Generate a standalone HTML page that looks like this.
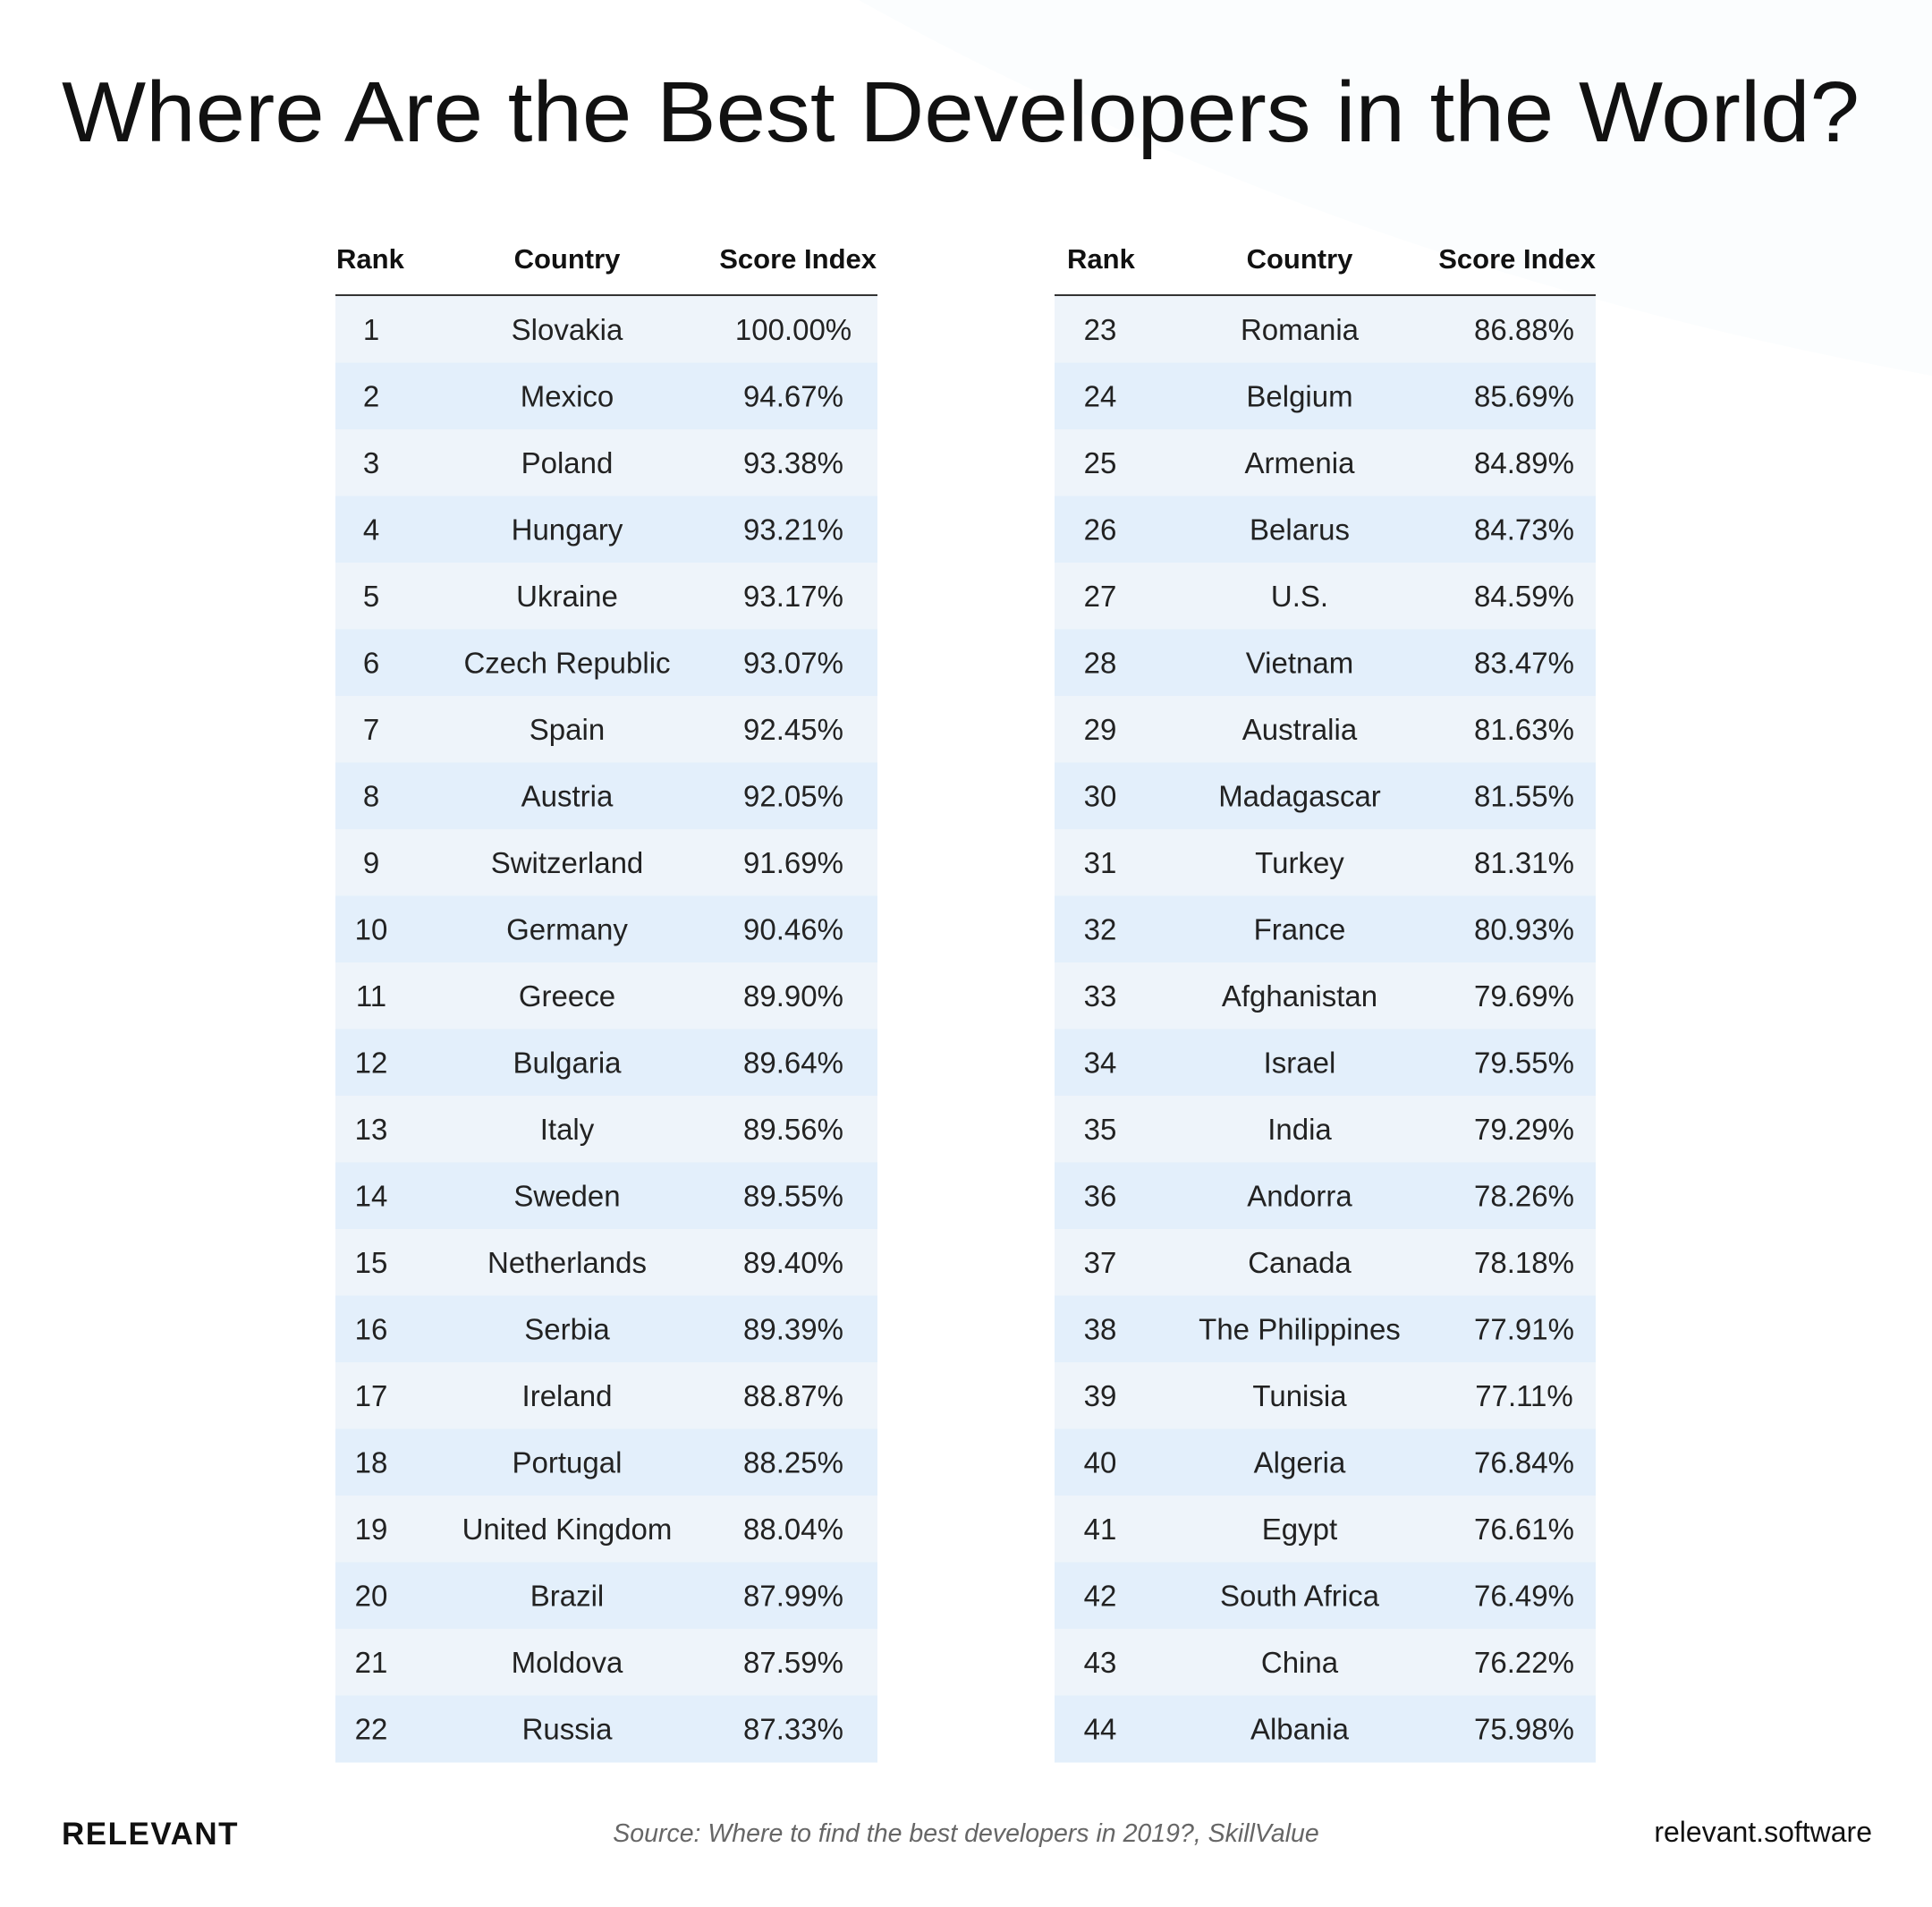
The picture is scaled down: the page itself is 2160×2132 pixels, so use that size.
<!DOCTYPE html>
<html><head><meta charset="utf-8"><style>
html,body{margin:0;padding:0;background:#fff;}
svg{display:block;}
text{font-family:"Liberation Sans",sans-serif;}
.t{font-size:33px;fill:#222;text-anchor:middle;}
.h{font-size:31px;font-weight:bold;fill:#111;}
.a{fill:#eef4fa;}.b{fill:#e3effb;}
</style></head><body>
<svg width="2160" height="2132" viewBox="0 0 2160 2132" xmlns="http://www.w3.org/2000/svg">
<rect width="2160" height="2132" fill="#fff"/>
<path d="M960 0 L2160 0 L2160 420 Q1500 300 960 0Z" fill="#fbfdfe"/>
<text x="69" y="158" font-size="96" fill="#111" textLength="2010" lengthAdjust="spacingAndGlyphs">Where Are the Best Developers in the World?</text>
<g class="h">
<text x="376" y="300">Rank</text><text x="634" y="300" text-anchor="middle">Country</text><text x="980" y="300" text-anchor="end">Score Index</text>
<text x="1193" y="300">Rank</text><text x="1453" y="300" text-anchor="middle">Country</text><text x="1784" y="300" text-anchor="end">Score Index</text>
</g>
<line x1="375" y1="330" x2="981" y2="330" stroke="#333" stroke-width="2"/>
<line x1="1179" y1="330" x2="1784" y2="330" stroke="#333" stroke-width="2"/>

<g transform="translate(0,331)"><rect class="a" x="375" width="606" height="75"/><rect class="a" x="1179" width="605" height="75"/><text class="t" x="415" y="49">1</text><text class="t" x="634" y="49">Slovakia</text><text class="t" x="887" y="49">100.00%</text><text class="t" x="1230" y="49">23</text><text class="t" x="1453" y="49">Romania</text><text class="t" x="1704" y="49">86.88%</text></g>
<g transform="translate(0,405.5)"><rect class="b" x="375" width="606" height="75"/><rect class="b" x="1179" width="605" height="75"/><text class="t" x="415" y="49">2</text><text class="t" x="634" y="49">Mexico</text><text class="t" x="887" y="49">94.67%</text><text class="t" x="1230" y="49">24</text><text class="t" x="1453" y="49">Belgium</text><text class="t" x="1704" y="49">85.69%</text></g>
<g transform="translate(0,480)"><rect class="a" x="375" width="606" height="75"/><rect class="a" x="1179" width="605" height="75"/><text class="t" x="415" y="49">3</text><text class="t" x="634" y="49">Poland</text><text class="t" x="887" y="49">93.38%</text><text class="t" x="1230" y="49">25</text><text class="t" x="1453" y="49">Armenia</text><text class="t" x="1704" y="49">84.89%</text></g>
<g transform="translate(0,554.5)"><rect class="b" x="375" width="606" height="75"/><rect class="b" x="1179" width="605" height="75"/><text class="t" x="415" y="49">4</text><text class="t" x="634" y="49">Hungary</text><text class="t" x="887" y="49">93.21%</text><text class="t" x="1230" y="49">26</text><text class="t" x="1453" y="49">Belarus</text><text class="t" x="1704" y="49">84.73%</text></g>
<g transform="translate(0,629)"><rect class="a" x="375" width="606" height="75"/><rect class="a" x="1179" width="605" height="75"/><text class="t" x="415" y="49">5</text><text class="t" x="634" y="49">Ukraine</text><text class="t" x="887" y="49">93.17%</text><text class="t" x="1230" y="49">27</text><text class="t" x="1453" y="49">U.S.</text><text class="t" x="1704" y="49">84.59%</text></g>
<g transform="translate(0,703.5)"><rect class="b" x="375" width="606" height="75"/><rect class="b" x="1179" width="605" height="75"/><text class="t" x="415" y="49">6</text><text class="t" x="634" y="49">Czech Republic</text><text class="t" x="887" y="49">93.07%</text><text class="t" x="1230" y="49">28</text><text class="t" x="1453" y="49">Vietnam</text><text class="t" x="1704" y="49">83.47%</text></g>
<g transform="translate(0,778)"><rect class="a" x="375" width="606" height="75"/><rect class="a" x="1179" width="605" height="75"/><text class="t" x="415" y="49">7</text><text class="t" x="634" y="49">Spain</text><text class="t" x="887" y="49">92.45%</text><text class="t" x="1230" y="49">29</text><text class="t" x="1453" y="49">Australia</text><text class="t" x="1704" y="49">81.63%</text></g>
<g transform="translate(0,852.5)"><rect class="b" x="375" width="606" height="75"/><rect class="b" x="1179" width="605" height="75"/><text class="t" x="415" y="49">8</text><text class="t" x="634" y="49">Austria</text><text class="t" x="887" y="49">92.05%</text><text class="t" x="1230" y="49">30</text><text class="t" x="1453" y="49">Madagascar</text><text class="t" x="1704" y="49">81.55%</text></g>
<g transform="translate(0,927)"><rect class="a" x="375" width="606" height="75"/><rect class="a" x="1179" width="605" height="75"/><text class="t" x="415" y="49">9</text><text class="t" x="634" y="49">Switzerland</text><text class="t" x="887" y="49">91.69%</text><text class="t" x="1230" y="49">31</text><text class="t" x="1453" y="49">Turkey</text><text class="t" x="1704" y="49">81.31%</text></g>
<g transform="translate(0,1001.5)"><rect class="b" x="375" width="606" height="75"/><rect class="b" x="1179" width="605" height="75"/><text class="t" x="415" y="49">10</text><text class="t" x="634" y="49">Germany</text><text class="t" x="887" y="49">90.46%</text><text class="t" x="1230" y="49">32</text><text class="t" x="1453" y="49">France</text><text class="t" x="1704" y="49">80.93%</text></g>
<g transform="translate(0,1076)"><rect class="a" x="375" width="606" height="75"/><rect class="a" x="1179" width="605" height="75"/><text class="t" x="415" y="49">11</text><text class="t" x="634" y="49">Greece</text><text class="t" x="887" y="49">89.90%</text><text class="t" x="1230" y="49">33</text><text class="t" x="1453" y="49">Afghanistan</text><text class="t" x="1704" y="49">79.69%</text></g>
<g transform="translate(0,1150.5)"><rect class="b" x="375" width="606" height="75"/><rect class="b" x="1179" width="605" height="75"/><text class="t" x="415" y="49">12</text><text class="t" x="634" y="49">Bulgaria</text><text class="t" x="887" y="49">89.64%</text><text class="t" x="1230" y="49">34</text><text class="t" x="1453" y="49">Israel</text><text class="t" x="1704" y="49">79.55%</text></g>
<g transform="translate(0,1225)"><rect class="a" x="375" width="606" height="75"/><rect class="a" x="1179" width="605" height="75"/><text class="t" x="415" y="49">13</text><text class="t" x="634" y="49">Italy</text><text class="t" x="887" y="49">89.56%</text><text class="t" x="1230" y="49">35</text><text class="t" x="1453" y="49">India</text><text class="t" x="1704" y="49">79.29%</text></g>
<g transform="translate(0,1299.5)"><rect class="b" x="375" width="606" height="75"/><rect class="b" x="1179" width="605" height="75"/><text class="t" x="415" y="49">14</text><text class="t" x="634" y="49">Sweden</text><text class="t" x="887" y="49">89.55%</text><text class="t" x="1230" y="49">36</text><text class="t" x="1453" y="49">Andorra</text><text class="t" x="1704" y="49">78.26%</text></g>
<g transform="translate(0,1374)"><rect class="a" x="375" width="606" height="75"/><rect class="a" x="1179" width="605" height="75"/><text class="t" x="415" y="49">15</text><text class="t" x="634" y="49">Netherlands</text><text class="t" x="887" y="49">89.40%</text><text class="t" x="1230" y="49">37</text><text class="t" x="1453" y="49">Canada</text><text class="t" x="1704" y="49">78.18%</text></g>
<g transform="translate(0,1448.5)"><rect class="b" x="375" width="606" height="75"/><rect class="b" x="1179" width="605" height="75"/><text class="t" x="415" y="49">16</text><text class="t" x="634" y="49">Serbia</text><text class="t" x="887" y="49">89.39%</text><text class="t" x="1230" y="49">38</text><text class="t" x="1453" y="49">The Philippines</text><text class="t" x="1704" y="49">77.91%</text></g>
<g transform="translate(0,1523)"><rect class="a" x="375" width="606" height="75"/><rect class="a" x="1179" width="605" height="75"/><text class="t" x="415" y="49">17</text><text class="t" x="634" y="49">Ireland</text><text class="t" x="887" y="49">88.87%</text><text class="t" x="1230" y="49">39</text><text class="t" x="1453" y="49">Tunisia</text><text class="t" x="1704" y="49">77.11%</text></g>
<g transform="translate(0,1597.5)"><rect class="b" x="375" width="606" height="75"/><rect class="b" x="1179" width="605" height="75"/><text class="t" x="415" y="49">18</text><text class="t" x="634" y="49">Portugal</text><text class="t" x="887" y="49">88.25%</text><text class="t" x="1230" y="49">40</text><text class="t" x="1453" y="49">Algeria</text><text class="t" x="1704" y="49">76.84%</text></g>
<g transform="translate(0,1672)"><rect class="a" x="375" width="606" height="75"/><rect class="a" x="1179" width="605" height="75"/><text class="t" x="415" y="49">19</text><text class="t" x="634" y="49">United Kingdom</text><text class="t" x="887" y="49">88.04%</text><text class="t" x="1230" y="49">41</text><text class="t" x="1453" y="49">Egypt</text><text class="t" x="1704" y="49">76.61%</text></g>
<g transform="translate(0,1746.5)"><rect class="b" x="375" width="606" height="75"/><rect class="b" x="1179" width="605" height="75"/><text class="t" x="415" y="49">20</text><text class="t" x="634" y="49">Brazil</text><text class="t" x="887" y="49">87.99%</text><text class="t" x="1230" y="49">42</text><text class="t" x="1453" y="49">South Africa</text><text class="t" x="1704" y="49">76.49%</text></g>
<g transform="translate(0,1821)"><rect class="a" x="375" width="606" height="75"/><rect class="a" x="1179" width="605" height="75"/><text class="t" x="415" y="49">21</text><text class="t" x="634" y="49">Moldova</text><text class="t" x="887" y="49">87.59%</text><text class="t" x="1230" y="49">43</text><text class="t" x="1453" y="49">China</text><text class="t" x="1704" y="49">76.22%</text></g>
<g transform="translate(0,1895.5)"><rect class="b" x="375" width="606" height="75"/><rect class="b" x="1179" width="605" height="75"/><text class="t" x="415" y="49">22</text><text class="t" x="634" y="49">Russia</text><text class="t" x="887" y="49">87.33%</text><text class="t" x="1230" y="49">44</text><text class="t" x="1453" y="49">Albania</text><text class="t" x="1704" y="49">75.98%</text></g>

<text x="69" y="2062" font-size="35" font-weight="bold" fill="#111" letter-spacing="1.5">RELEVANT</text>
<text x="1080" y="2059" font-size="28.5" font-style="italic" fill="#666" text-anchor="middle">Source: Where to find the best developers in 2019?, SkillValue</text>
<text x="2093" y="2059" font-size="32" fill="#111" text-anchor="end">relevant.software</text>
</svg>
</body></html>
